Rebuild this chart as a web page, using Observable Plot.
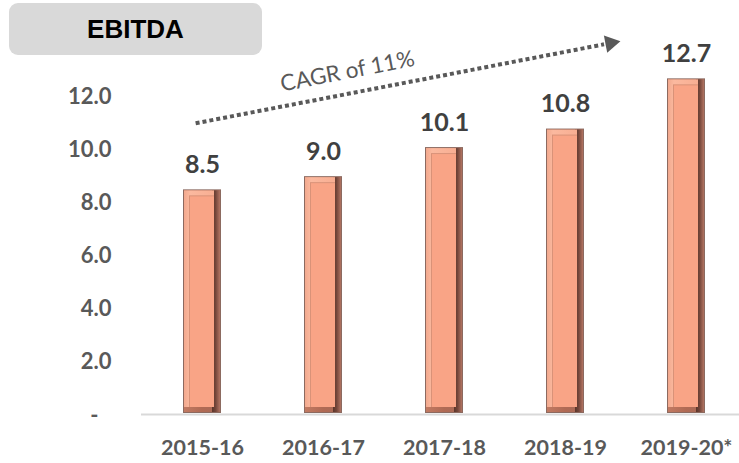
<!DOCTYPE html>
<html>
<head>
<meta charset="utf-8">
<script src="https://cdn.jsdelivr.net/npm/d3@7"></script>
<script src="https://cdn.jsdelivr.net/npm/@observablehq/plot@0.6"></script>
<style>
  body { margin: 0; background: #fff; }
  #wrap { position: relative; width: 739px; height: 463px; }
  #title {
    position: absolute; left: 9px; top: 3px; width: 253px; height: 52px;
    background: #d9d9d9; border-radius: 9px; z-index: 2;
    font: bold 26px "Liberation Sans", Arial, sans-serif; color: #000;
    text-align: center; line-height: 52px;
  }
  #wrap svg { position: absolute; left: 0; top: 0; }
</style>
</head>
<body>
<div id="wrap"><div id="title">EBITDA</div></div>
<script>
const categories = ["2015-16", "2016-17", "2017-18", "2018-19", "2019-20*"];
const values = [8.5, 9.0, 10.1, 10.8, 12.7];
const yTicks = [0, 2, 4, 6, 8, 10, 12];
const yTickLabels = ["-", "2.0", "4.0", "6.0", "8.0", "10.0", "12.0"];
const cagrText = ["CAGR of 11%"];
const cagrFrom = 11.07;   // trend arrow level at first bar
const cagrTo = 14.61;     // trend arrow level at last bar
const cagrHead = 14.05;   // arrowhead level
const cagrLabelY = 12.98; // label level

const data = categories.map((c, i) => ({category: c, value: values[i], label: values[i].toFixed(1)}));
const ticks = yTicks.map((t, i) => ({t, label: yTickLabels[i]}));

const labelFont = "Lato, 'Open Sans', sans-serif";
const bar = (fill, inset) => Plot.barY(data, {x: "category", y: "value", fill, ...inset});

const chart = Plot.plot({
  width: 739,
  height: 463,
  marginLeft: 141,
  marginRight: 0,
  marginTop: 44,
  marginBottom: 49,
  style: {fontFamily: labelFont, background: "transparent", overflow: "visible"},
  x: {domain: categories, range: [141.5, 746.5], paddingInner: 0.686, paddingOuter: 0.343, axis: null},
  y: {domain: [0, 14], range: [414, 44], axis: null},
  marks: [
    // outline
    bar("#8c6a60", {insetBottom: 1}),
    // dark (right / bottom) bevel
    bar("url(#bevelB)", {insetLeft: 1, insetRight: 1, insetTop: 1, insetBottom: 2}),
    bar("url(#bevelR)", {insetLeft: 29, insetRight: 1, insetTop: 1, insetBottom: 2}),
    // light (left / top) bevel
    bar("url(#bevelL)", {insetLeft: 1, insetRight: 7, insetTop: 1, insetBottom: 7}),
    // inner face with soft edge
    bar("#d99278", {insetLeft: 6, insetRight: 7, insetTop: 6, insetBottom: 7}),
    bar("#f9a486", {insetLeft: 7, insetRight: 7, insetTop: 7, insetBottom: 7}),
    // baseline
    Plot.ruleY([0], {stroke: "#d9d9d9", strokeWidth: 2}),
    // value labels
    Plot.text(data, {x: "category", y: "value", text: "label", dy: -17, lineAnchor: "bottom",
      fontSize: 25, fontWeight: "bold", fill: "#404040"}),
    // y tick labels
    Plot.text(ticks.filter(d => d.t !== 0), {y: "t", text: "label", frameAnchor: "left", textAnchor: "end", dx: -30,
      fontSize: 22, fontWeight: "bold", fill: "#595959"}),
    Plot.text(ticks.filter(d => d.t === 0), {y: "t", text: "label", frameAnchor: "left", textAnchor: "end", dx: -43, dy: 1,
      fontSize: 22, fontWeight: "bold", fill: "#595959"}),
    // x tick labels
    Plot.text(categories, {x: d => d, frameAnchor: "bottom", dy: 34, lineAnchor: "middle",
      fontSize: 21.5, fontWeight: "bold", fill: "#595959"}),
    // CAGR trend arrow
    Plot.arrow([{x1: categories[0], y1: cagrFrom, x2: categories[4], y2: cagrTo}], {
      x1: "x1", y1: "y1", x2: "x2", y2: "y2", headLength: 0, insetStart: -7, insetEnd: 84,
      stroke: "#595959", strokeWidth: 4, strokeDasharray: "4,3", strokeLinecap: "butt"}),
    Plot.dot([{x: categories[4], y: cagrHead}], {x: "x", y: "y", dx: -76, symbol: "triangle", r: 6.5,
      fill: "#595959", stroke: "none", rotate: 79}),
    Plot.text(cagrText, {x: () => categories[1], y: () => cagrLabelY, text: d => d, dx: 24, rotate: -11,
      fontSize: 22.5, fill: "#595959", lineAnchor: "middle"})
  ]
});

// gradients for bar bevel
const ns = "http://www.w3.org/2000/svg";
const defs = document.createElementNS(ns, "defs");
function addGrad(id, stops, vertical) {
  const grad = document.createElementNS(ns, "linearGradient");
  grad.setAttribute("id", id);
  grad.setAttribute("x1", "0"); grad.setAttribute("y1", "0");
  grad.setAttribute("x2", vertical ? "0" : "1"); grad.setAttribute("y2", vertical ? "1" : "0");
  stops.forEach(([o, c]) => {
    const s = document.createElementNS(ns, "stop");
    s.setAttribute("offset", o); s.setAttribute("stop-color", c);
    grad.appendChild(s);
  });
  defs.appendChild(grad);
}
addGrad("bevelB", [["0", "#c27a62"], ["0.5", "#b06a54"], ["1", "#a86a58"]]);
addGrad("bevelR", [["0", "#5a3529"], ["0.45", "#74463a"], ["1", "#b27462"]]);
addGrad("bevelL", [["0", "#f2a98e"], ["0.2", "#fbb99f"], ["1", "#f8ae92"]]);
chart.insertBefore(defs, chart.firstChild);

document.getElementById("wrap").appendChild(chart);
</script>
</body>
</html>
